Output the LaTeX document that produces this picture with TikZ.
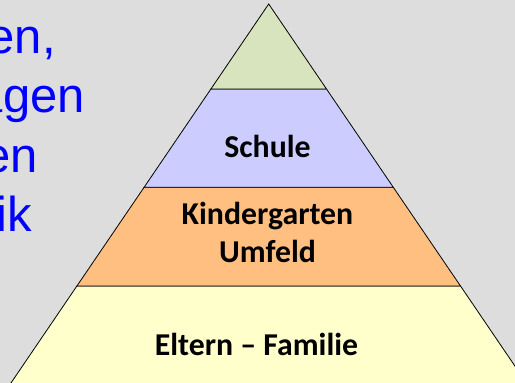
\documentclass[tikz,border=0pt]{standalone}
\usepackage{fontspec}
\setmainfont{Carlito}
\newfontfamily\arialf{Liberation Sans}
\definecolor{bgc}{HTML}{DDDDDD}
\definecolor{lgreen}{HTML}{D7E4BD}
\definecolor{lblue}{HTML}{CCCCFF}
\definecolor{lorange}{HTML}{FFBF80}
\definecolor{lyellow}{HTML}{FFFFCC}
\definecolor{tblue}{HTML}{0000FF}
\begin{document}
\begin{tikzpicture}[x=1pt,y=-1pt,
  layer/.style={draw=black,line width=0.8pt,line join=miter},
  sidetext/.style={inner sep=0pt,anchor=base east,text=tblue,font=\arialf\fontsize{49}{59.5}\selectfont},
  lab/.style={inner sep=0pt,anchor=base,text=black,font=\fontsize{31.8}{38}\selectfont\bfseries}]
\useasboundingbox (0,0) rectangle (515,383);
\clip (0,0) rectangle (515,383);
\fill[bgc] (0,0) rectangle (515,383);
% pyramid layers
\filldraw[layer,fill=lyellow] (76.9,286) -- (460.5,286) -- (538,400) -- (-0.6,400) -- cycle;
\filldraw[layer,fill=lorange] (144.1,187.3) -- (393.3,187.3) -- (460.5,286) -- (76.9,286) -- cycle;
\filldraw[layer,fill=lblue] (210.9,89) -- (326.5,89) -- (393.3,187.3) -- (144.1,187.3) -- cycle;
\filldraw[layer,fill=lgreen] (268.7,4) -- (326.5,89) -- (210.9,89) -- cycle;
% side text
\node[sidetext] (t1) at (56,53) {en,};
\node[sidetext] (t2) at (85,112) {agen};
\node[sidetext] (t3) at (38,172) {en};
\node[sidetext] (t4) at (32,231) {ik};
% labels
\node[lab] (schule) at (267.5,157) {Schule};
\node[lab] (kiga) at (267.5,224) {Kindergarten};
\node[lab] (umfeld) at (267.5,262) {Umfeld};
\node[lab] (eltern) at (256.5,355) {Eltern – Familie};
\end{tikzpicture}
\end{document}
